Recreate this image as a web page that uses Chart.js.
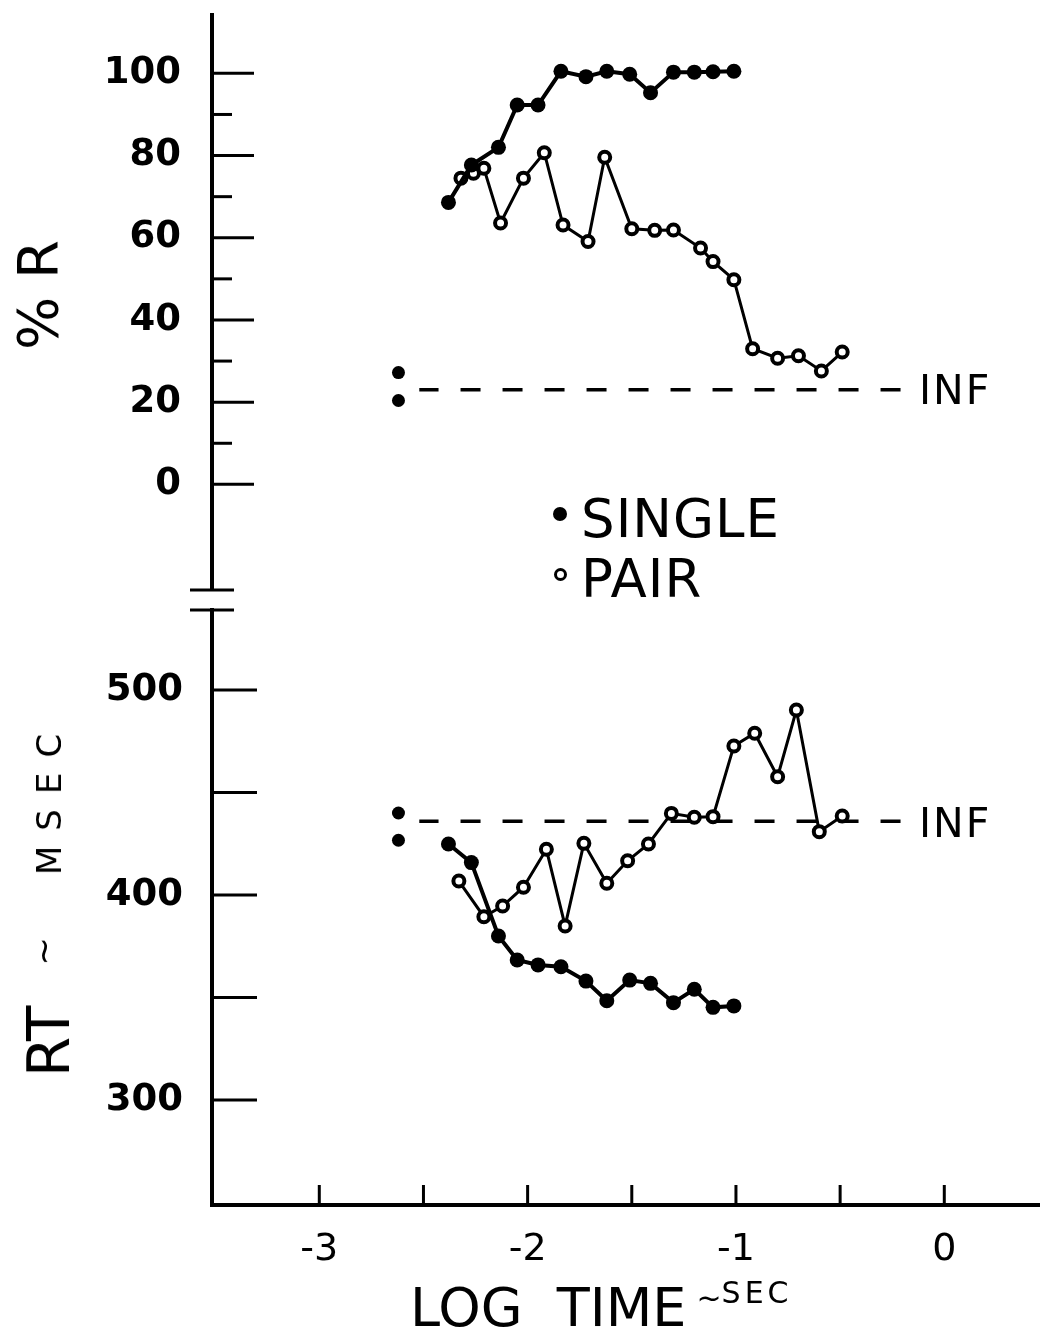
<!DOCTYPE html>
<html>
<head>
<meta charset="utf-8">
<script src="https://cdn.jsdelivr.net/npm/chart.js@4.4.1/dist/chart.umd.min.js"></script>
<style>
  html, body { margin: 0; padding: 0; background: #fff; }
  #page { position: relative; width: 1049px; height: 1340px; overflow: hidden; background: #fff;
          font-family: 'DejaVu Sans', sans-serif; color: #000; }
  canvas { position: absolute; left: 0; }
  #top { top: 0; }
  #bottom { top: 600px; }
  .txt { position: absolute; white-space: nowrap; line-height: 1; }
  .dot { position: absolute; border-radius: 50%; box-sizing: border-box; }
</style>
</head>
<body>
<div id="page">
  <canvas id="top" width="1049" height="600"></canvas>
  <canvas id="bottom" width="1049" height="740"></canvas>

  <div class="txt" style="left:38px; top:295px; font-size:56px; transform:translate(-50%,-50%) rotate(-90deg)">% R</div>
  <div class="txt" style="left:49px; top:898px; font-size:58px; transform:translate(-50%,-50%) rotate(-90deg)">RT<span style="font-size:34px; margin-left:40px; margin-right:62px; position:relative; top:-14px">~</span><span style="font-size:34px; letter-spacing:15px; position:relative; top:-8px">MSEC</span></div>

  <div class="txt" style="left:410px; top:1281px; font-size:54px">LOG&nbsp;&nbsp;TIME<span style="font-size:30px; margin-left:10px; position:relative; top:-18px">~</span><span style="font-size:30px; letter-spacing:4px; position:relative; top:-23px">SEC</span></div>

  <div class="dot" style="left:553px; top:507px; width:14px; height:14px; background:#000"></div>
  <div class="txt" style="left:581px; top:492px; font-size:53px; letter-spacing:1px">SINGLE</div>
  <div class="dot" style="left:554px; top:568px; width:13px; height:13px; border:3.5px solid #000; background:#fff"></div>
  <div class="txt" style="left:581px; top:552px; font-size:53px; letter-spacing:1px">PAIR</div>

  <div class="txt" style="left:919px; top:370px; font-size:41px; letter-spacing:2px">INF</div>
  <div class="txt" style="left:919px; top:803px; font-size:41px; letter-spacing:2px">INF</div>
</div>
<script>
// axis ticks
const logTicks = [-3, -2, -1, 0]
const logTickMarks = [-3, -2.5, -2, -1.5, -1, -0.5, 0]
const pctTicks = [0, 20, 40, 60, 80, 100]
const pctMinor = [10, 30, 50, 70, 90]
const rtTicks = [300, 350, 400, 450, 500]
const rtLabels = [300, 400, 500]

// single stimulus, log time (sec)
const singleT = [-2.38, -2.27, -2.14, -2.05, -1.95, -1.84, -1.72, -1.62, -1.51, -1.41, -1.30, -1.20, -1.11, -1.01]
const singleR = [68.6, 77.7, 82.0, 92.3, 92.3, 100.5, 99.2, 100.5, 99.8, 95.3, 100.3, 100.3, 100.4, 100.5]
const singleRt = [424.9, 415.8, 380, 368.3, 365.9, 365, 358, 348.4, 358.5, 356.9, 347.5, 354, 345.2, 345.9]

// pair, % R
const pairRT = [-2.32, -2.26, -2.21, -2.13, -2.02, -1.92, -1.83, -1.71, -1.63, -1.50, -1.39, -1.30, -1.17, -1.11, -1.01, -0.92, -0.80, -0.70, -0.59, -0.49]
const pairR = [74.5, 75.7, 76.9, 63.6, 74.5, 80.7, 63.1, 59.1, 79.6, 62.2, 61.8, 61.9, 57.5, 54.2, 49.8, 33.0, 30.7, 31.3, 27.6, 32.2]

// pair, RT
const pairRtT = [-2.33, -2.21, -2.12, -2.02, -1.91, -1.82, -1.73, -1.62, -1.52, -1.42, -1.31, -1.20, -1.11, -1.01, -0.91, -0.80, -0.71, -0.60, -0.49]
const pairRt = [406.8, 389.4, 394.6, 403.8, 422.3, 384.9, 425.2, 405.7, 416.7, 424.9, 439.8, 437.9, 438.2, 472.7, 478.9, 457.7, 490.2, 430.9, 438.5]

// infinite interval
const infT = [-2.62, -2.62]
const infSingleR = [27.2, 20.4]
const infSingleRt = [440, 426.7]
const infLineT = [-0.21, -2.52]
const infLineR = [23, 23]
const infLineRt = [436, 436]

const X_MIN = -3.515, X_MAX = 0.457
const FONT = "'DejaVu Sans', sans-serif"

const zip = (xs, ys) => xs.map((x, i) => ({ x, y: ys[i] }))

const solid = {
  showLine: true, borderColor: '#000', borderWidth: 4, tension: 0,
  pointRadius: 7.5, pointBackgroundColor: '#000', pointBorderColor: '#000', pointBorderWidth: 0
}
const hollow = {
  showLine: true, borderColor: '#000', borderWidth: 3, tension: 0,
  pointRadius: 5.5, pointBackgroundColor: '#fff', pointBorderColor: '#000', pointBorderWidth: 4
}
const infDots = { showLine: false, pointRadius: 6.5, pointBackgroundColor: '#000', pointBorderWidth: 0 }
const dashed = { showLine: true, borderColor: '#000', borderWidth: 3.5, borderDash: [20, 22], pointRadius: 0 }

function fitAxis(w, h) {
  return s => {
    if (w != null) s.width = w
    if (h != null) s.height = h
    s.paddingLeft = s.paddingRight = s.paddingTop = s.paddingBottom = 0
  }
}

// inward tick marks + axis break, drawn off the chart's own scales
function axisDeco(cfg) {
  return {
    id: 'axisDeco',
    afterDraw(chart) {
      const { ctx, chartArea: a, scales } = chart
      ctx.save()
      ctx.strokeStyle = '#000'
      ctx.lineWidth = 3
      cfg.yMarks.forEach(m => m.values.forEach(v => {
        const py = scales.y.getPixelForValue(v)
        ctx.beginPath(); ctx.moveTo(a.left, py); ctx.lineTo(a.left + m.len, py); ctx.stroke()
      }))
      if (cfg.xMarks) cfg.xMarks.values.forEach(v => {
        const px = scales.x.getPixelForValue(v)
        ctx.beginPath(); ctx.moveTo(px, a.bottom); ctx.lineTo(px, a.bottom - cfg.xMarks.len); ctx.stroke()
      })
      const by = cfg.brk === 'top' ? a.top : a.bottom
      ctx.beginPath(); ctx.moveTo(a.left - 22, by); ctx.lineTo(a.left + 22, by); ctx.stroke()
      ctx.restore()
    }
  }
}

const base = {
  animation: false,
  responsive: false,
  events: [],
  plugins: { legend: { display: false }, tooltip: { enabled: false } }
}

new Chart(document.getElementById('top'), {
  type: 'scatter',
  data: {
    datasets: [
      { data: zip(singleT, singleR), ...solid },
      { data: zip(pairRT, pairR), ...hollow },
      { data: zip(infT, infSingleR), ...infDots },
      { data: zip(infLineT, infLineR), ...dashed }
    ]
  },
  options: {
    ...base,
    layout: { padding: { left: 0, right: 4, top: 15, bottom: 10 } },
    scales: {
      x: { type: 'linear', min: X_MIN, max: X_MAX, display: false, ticks: { display: false }, afterFit: fitAxis() },
      y: {
        type: 'linear', min: -25.7, max: 114.2,
        afterBuildTicks: s => { s.ticks = pctTicks.map(value => ({ value })) },
        afterFit: fitAxis(212),
        grid: { display: false, drawTicks: false },
        border: { display: true, color: '#000', width: 4 },
        ticks: { color: '#000', padding: 31, font: { family: FONT, size: 37, weight: 'bold' }, callback: v => String(v) }
      }
    }
  },
  plugins: [axisDeco({ yMarks: [{ values: pctTicks, len: 42 }, { values: pctMinor, len: 20 }], brk: 'bottom' })]
})

new Chart(document.getElementById('bottom'), {
  type: 'scatter',
  data: {
    datasets: [
      { data: zip(singleT, singleRt), ...solid },
      { data: zip(pairRtT, pairRt), ...hollow },
      { data: zip(infT, infSingleRt), ...infDots },
      { data: zip(infLineT, infLineRt), ...dashed }
    ]
  },
  options: {
    ...base,
    layout: { padding: { left: 0, right: 4, top: 10, bottom: 0 } },
    scales: {
      x: {
        type: 'linear', min: X_MIN, max: X_MAX, position: 'bottom',
        afterBuildTicks: s => { s.ticks = logTicks.map(value => ({ value })) },
        afterFit: fitAxis(null, 135),
        grid: { display: false, drawTicks: false },
        border: { display: true, color: '#000', width: 4 },
        ticks: { color: '#000', padding: 22, autoSkip: false, maxRotation: 0, font: { family: FONT, size: 38 }, callback: v => String(v) }
      },
      y: {
        type: 'linear', min: 248.8, max: 539,
        afterBuildTicks: s => { s.ticks = rtTicks.map(value => ({ value })) },
        afterFit: fitAxis(212),
        grid: { display: false, drawTicks: false },
        border: { display: true, color: '#000', width: 4 },
        ticks: { color: '#000', padding: 29, autoSkip: false, font: { family: FONT, size: 37, weight: 'bold' },
                 callback: v => rtLabels.includes(v) ? String(v) : '' }
      }
    }
  },
  plugins: [axisDeco({ yMarks: [{ values: rtTicks, len: 45 }], xMarks: { values: logTickMarks, len: 20 }, brk: 'top' })]
})
</script>
</body>
</html>
